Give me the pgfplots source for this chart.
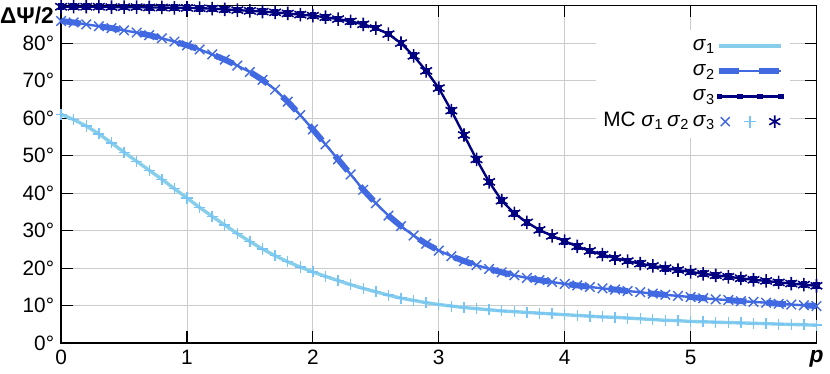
\documentclass[border=0pt]{standalone}
\usepackage{fontspec}
\setmainfont{Liberation Sans}
\usepackage{pgfplots}
\usepackage{pgfplotstable}
\pgfplotsset{compat=1.18}

\definecolor{sky}{RGB}{135,206,235}
\definecolor{lsky}{RGB}{120,196,245}
\definecolor{royal}{RGB}{65,105,225}
\definecolor{navyb}{RGB}{0,0,128}

% x = p, s1/s2/s3 = Delta Psi / 2 in degrees
\pgfplotstableread{
x   s1   s2   s3
0.0 61.0 85.9 89.7
0.1 59.6 85.5 89.7
0.2 57.9 85.0 89.7
0.3 55.8 84.5 89.7
0.4 53.4 84.0 89.6
0.5 50.9 83.4 89.6
0.6 48.5 82.8 89.6
0.7 46.1 82.1 89.5
0.8 43.7 81.3 89.5
0.9 41.2 80.4 89.4
1.0 38.7 79.4 89.4
1.1 36.2 78.3 89.3
1.2 33.8 77.0 89.2
1.3 31.5 75.6 89.0
1.4 29.2 74.0 88.8
1.5 27.1 72.3 88.6
1.6 25.1 70.2 88.4
1.7 23.3 67.6 88.2
1.8 21.7 64.4 87.9
1.9 20.3 60.8 87.6
2.0 19.0 57.0 87.3
2.1 17.8 53.0 86.9
2.2 16.7 49.0 86.4
2.3 15.6 45.0 85.8
2.4 14.6 40.9 85.0
2.5 13.7 37.3 84.0
2.6 12.8 34.0 82.4
2.7 12.0 31.2 80.0
2.8 11.4 28.7 76.6
2.9 10.8 26.5 72.6
3.0 10.3 24.7 68.0
3.1 9.9  23.2 62.0
3.2 9.5  21.9 55.5
3.3 9.2  20.8 49.0
3.4 8.9  19.8 43.0
3.5 8.6  18.9 38.0
3.6 8.4  18.1 34.6
3.7 8.2  17.4 32.2
3.8 8.0  16.8 30.2
3.9 7.8  16.3 28.6
4.0 7.6  15.8 27.2
4.1 7.4  15.4 25.8
4.2 7.2  15.0 24.6
4.3 7.0  14.6 23.6
4.4 6.9  14.3 22.7
4.5 6.7  13.9 21.9
4.6 6.5  13.6 21.2
4.7 6.3  13.2 20.6
4.8 6.1  12.9 20.0
4.9 6.0  12.6 19.5
5.0 5.8  12.3 19.0
5.1 5.7  12.0 18.5
5.2 5.6  11.7 18.1
5.3 5.5  11.5 17.7
5.4 5.4  11.2 17.3
5.5 5.3  11.0 16.9
5.6 5.2  10.8 16.6
5.7 5.1  10.5 16.2
5.8 5.0  10.3 15.9
5.9 4.9  10.1 15.6
6.0 4.8  9.9  15.3
}\data

\begin{document}
\begin{tikzpicture}
\begin{axis}[
    scale only axis,
    width=381.5pt, height=170.5pt,
    xmin=0, xmax=6, ymin=0, ymax=90,
    xtick={0,1,2,3,4,5,6},
    xticklabels={0,1,2,3,4,5,{\fontsize{11.5}{13}\selectfont\textbf{\textit{p}}}},
    ytick={0,10,20,30,40,50,60,70,80},
    yticklabels={0°,10°,20°,30°,40°,50°,60°,70°,80°},
    tick label style={font=\fontsize{10.5}{12.5}\selectfont},
    grid=major,
    grid style={black!20, line width=0.5pt},
    major tick length=6pt,
    tick style={black, line width=0.6pt},
    axis line style={line width=0.9pt},
    legend plot pos=right,
    legend cell align=right,
    legend style={draw=none, fill=white, font=\fontsize{10.5}{12.5}\selectfont,
        at={(0.965,0.93)}, anchor=north east, row sep=0pt,
        nodes={inner sep=0.6pt, text height=8pt, text depth=3.5pt}},
]
\addlegendimage{legend image code/.code={
    \draw[sky, line width=1.7pt] (0pt,0pt) -- (31pt,0pt);}}
\addlegendentry{\textit{σ}\textsubscript{1}}
\addlegendimage{legend image code/.code={
    \draw[royal, line width=1.2pt] (0pt,0pt) -- (31pt,0pt);
    \draw[royal, line width=3pt, dash pattern=on 10pt off 10pt] (0pt,0pt) -- (31pt,0pt);}}
\addlegendentry{\textit{σ}\textsubscript{2}}
\addlegendimage{legend image code/.code={
    \draw[navyb, line width=1.2pt] (0pt,0pt) -- (31pt,0pt);
    \fill[navyb] (0pt,0pt) +(-1.2pt,-1.2pt) rectangle +(1.2pt,1.2pt);
    \fill[navyb] (10.3pt,0pt) +(-1.2pt,-1.2pt) rectangle +(1.2pt,1.2pt);
    \fill[navyb] (20.6pt,0pt) +(-1.2pt,-1.2pt) rectangle +(1.2pt,1.2pt);
    \fill[navyb] (31pt,0pt) +(-1.2pt,-1.2pt) rectangle +(1.2pt,1.2pt);}}
\addlegendentry{\textit{σ}\textsubscript{3}}
\addlegendimage{legend image code/.code={
    \draw[royal, line width=0.7pt, only marks, mark=x, mark size=3.2pt] plot coordinates {(3pt,0pt)};
    \draw[lsky, line width=0.7pt, only marks, mark=+, mark size=3pt] plot coordinates {(15.5pt,0pt)};
    \draw[navyb, line width=0.8pt, only marks, mark=asterisk, mark size=3.2pt] plot coordinates {(28pt,0pt)};}}
\addlegendentry{MC \textit{σ}\textsubscript{1}\,\textit{σ}\textsubscript{2}\,\textit{σ}\textsubscript{3}}

\addplot[forget plot, sky, line width=1.7pt] table[x=x, y=s1] {\data};
\addplot[forget plot, royal, line width=1.2pt] table[x=x, y=s2] {\data};
\addplot[forget plot, royal, line width=3pt, dash pattern=on 10pt off 10pt] table[x=x, y=s2] {\data};
\addplot[forget plot, navyb, line width=1.2pt, mark=square*, mark size=1.1pt] table[x=x, y=s3] {\data};
\addplot[forget plot, only marks, royal, line width=0.7pt, mark=x, mark size=3.4pt] table[x=x, y=s2] {\data};
\addplot[forget plot, only marks, lsky, line width=0.7pt, mark=+, mark size=2.8pt] table[x=x, y=s1] {\data};
\addplot[forget plot, only marks, navyb, line width=0.8pt, mark=asterisk, mark size=3.4pt] table[x=x, y=s3] {\data};

\coordinate (tl) at (rel axis cs:0,1);
\end{axis}
\node[anchor=north east, inner sep=0pt, font=\fontsize{11.5}{13}\selectfont\bfseries]
    at (tl) [xshift=-3.5pt, yshift=-0.5pt] {ΔΨ/2};
\end{tikzpicture}
\end{document}
